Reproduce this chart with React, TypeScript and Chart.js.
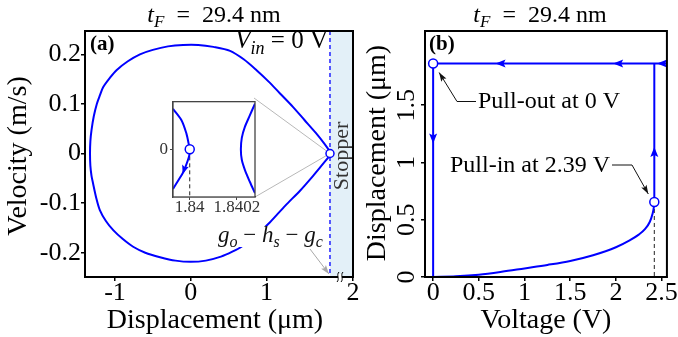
import { useEffect, useRef } from "react";
import { Chart, registerables } from "chart.js";

Chart.register(...registerables);

const FONT = "'Liberation Serif', 'Times New Roman', serif";
const BLUE = "#0000ff";
const BLACK = "#000000";

// ===== Panel (a): phase portrait (displacement µm, velocity m/s) =====
const orbitUpperX = [-1.33, -1.325, -1.31, -1.28, -1.24, -1.2, -1.155, -1.07, -0.98, -0.83, -0.67, -0.5, -0.3, -0.1, 0.1, 0.3, 0.52, 0.7, 0.87, 1.03, 1.18, 1.35, 1.5, 1.65, 1.76, 1.84];
const orbitUpperV = [0, 0.025, 0.047, 0.075, 0.1, 0.117, 0.134, 0.152, 0.168, 0.186, 0.2, 0.209, 0.216, 0.219, 0.219, 0.215, 0.207, 0.19, 0.168, 0.145, 0.121, 0.094, 0.068, 0.042, 0.021, 0.004];
const orbitLowerX = [-1.33, -1.325, -1.31, -1.29, -1.25, -1.2, -1.12, -1.02, -0.9, -0.76, -0.6, -0.405, -0.2, 0, 0.2, 0.4, 0.55, 0.68, 0.87, 1.048, 1.25, 1.444, 1.6, 1.72, 1.84];
const orbitLowerV = [0, -0.025, -0.045, -0.06, -0.088, -0.114, -0.136, -0.155, -0.172, -0.188, -0.2, -0.209, -0.216, -0.2185, -0.216, -0.208, -0.198, -0.187, -0.164, -0.1385, -0.105, -0.075, -0.048, -0.026, -0.004];
const stopperX = 1.84;
const startPointX = [1.84];
const startPointV = [0];
const leftXTickValues = [-1, 0, 1, 2.144];
const leftXTickLabels = ["-1", "0", "1", "2"];
const leftYTickValues = [-0.2, -0.1, 0, 0.1, 0.2];
const leftYTickLabels = ["-0.2", "-0.1", "0", "0.1", "0.2"];
const leftXRange = [-1.396, 2.144];
const leftYRange = [-0.249, 0.247];

// ===== Inset of panel (a) =====
const insetLeftX = [1.839929, 1.839965, 1.839986, 1.839995, 1.84, 1.839997, 1.839977, 1.83997, 1.839929];
const insetLeftV = [0.0085, 0.0061, 0.0033, 0.0013, 0, -0.0015, -0.0043, -0.005, -0.0083];
const insetRightX = [1.840277, 1.840255, 1.840234, 1.840221, 1.840217, 1.840221, 1.840234, 1.840255, 1.840277];
const insetRightV = [0.0096, 0.0071, 0.0047, 0.0024, 0, -0.0022, -0.0043, -0.0068, -0.0092];
const insetArrowFrom = [1.839986, -0.0028];
const insetArrowTo = [1.83997, -0.0052];
const insetXTickValues = [1.84, 1.8402];
const insetXTickLabels = ["1.84", "1.8402"];
const insetYTickValues = [0];
const insetYTickLabels = ["0"];
const insetXRange = [1.839929, 1.840277];
const insetYRange = [-0.01, 0.01];

// ===== Panel (b): displacement vs voltage =====
const upSweepV = [0, 0.25, 0.5, 0.75, 1, 1.25, 1.5, 1.75, 2, 2.15, 2.25, 2.32, 2.37, 2.4, 2.415, 2.42];
const upSweepD = [0, 0.006, 0.02, 0.045, 0.075, 0.105, 0.14, 0.19, 0.26, 0.32, 0.37, 0.42, 0.48, 0.55, 0.61, 0.655];
const pullInV = 2.42;
const pullInD = 0.655;
const pullOutV = 0;
const contactD = 1.864;
const sweepEndV = 2.558;
const loopArrowX = [0.683, 1.97, 2.45, 0, 2.42];
const loopArrowY = [1.864, 1.864, 1.864, 1.165, 1.135];
const loopArrowDir = ["left", "left", "left", "down", "up"];
const rightXTickValues = [0, 0.5, 1, 1.5, 2, 2.5];
const rightXTickLabels = ["0", "0.5", "1", "1.5", "2", "2.5"];
const rightYTickValues = [0, 0.5, 1, 1.5];
const rightYTickLabels = ["0", "0.5", "1", "1.5"];
const rightXRange = [-0.089, 2.558];
const rightYRange = [0, 2.148];

type Seg = { t: string; it?: boolean; sub?: boolean; b?: boolean };

function drawRich(ctx: CanvasRenderingContext2D, segs: Seg[], x: number, y: number, size: number, align: string, color: string) {
  const fontFor = (s: Seg) =>
    `${s.it ? "italic " : ""}${s.b ? "bold " : ""}${s.sub ? Math.round(size * 0.7) : size}px ${FONT}`;
  let w = 0;
  for (const s of segs) {
    ctx.font = fontFor(s);
    w += ctx.measureText(s.t).width;
  }
  let cx = align === "center" ? x - w / 2 : align === "right" ? x - w : x;
  ctx.textAlign = "left";
  ctx.textBaseline = "alphabetic";
  ctx.fillStyle = color;
  for (const s of segs) {
    ctx.font = fontFor(s);
    ctx.fillText(s.t, cx, s.sub ? y + size * 0.22 : y);
    cx += ctx.measureText(s.t).width;
  }
  return w;
}

function arrowHead(ctx: CanvasRenderingContext2D, x: number, y: number, angle: number, len: number, wid: number, color: string) {
  ctx.save();
  ctx.translate(x, y);
  ctx.rotate(angle);
  ctx.beginPath();
  ctx.moveTo(0, 0);
  ctx.lineTo(-len, wid / 2);
  ctx.lineTo(-len * 0.8, 0);
  ctx.lineTo(-len, -wid / 2);
  ctx.closePath();
  ctx.fillStyle = color;
  ctx.fill();
  ctx.restore();
}

function frame(ctx: CanvasRenderingContext2D, a: any, color: string, w: number) {
  ctx.save();
  ctx.strokeStyle = color;
  ctx.lineWidth = w;
  ctx.strokeRect(a.left, a.top, a.right - a.left, a.bottom - a.top);
  ctx.restore();
}

function linAxis(range: number[], values: number[], labels: string[], fontSize: number, fit: (s: any) => void, opts: any = {}) {
  return {
    type: "linear",
    min: range[0],
    max: range[1],
    afterBuildTicks: (s: any) => {
      s.ticks = values.map((v) => ({ value: v }));
    },
    afterFit: fit,
    ticks: {
      autoSkip: false,
      maxRotation: 0,
      minRotation: 0,
      padding: opts.padding ?? 0,
      color: opts.tickColor ?? BLACK,
      display: opts.display ?? true,
      font: { family: FONT, size: fontSize, lineHeight: 0.9 },
      callback: (_v: any, i: number) => labels[i],
    },
    grid: { drawOnChartArea: false, drawTicks: true, tickLength: opts.tickLength ?? 4, color: opts.gridColor ?? BLACK, lineWidth: opts.tickWidth ?? 1.5 },
    border: { display: true, color: opts.gridColor ?? BLACK, width: opts.borderWidth ?? 2 },
  };
}

const pts = (xs: number[], ys: number[]) => xs.map((x, i) => ({ x, y: ys[i] }));

const baseOptions = {
  responsive: false,
  animation: false,
  devicePixelRatio: 1,
  events: [],
  plugins: { legend: { display: false }, tooltip: { enabled: false } },
};

function leftConfig(): any {
  const orbit = [
    ...pts(orbitUpperX, orbitUpperV).reverse(),
    ...pts(orbitLowerX, orbitLowerV).slice(1),
  ];
  const plugin = {
    id: "leftDecor",
    beforeDatasetsDraw(chart: any) {
      const { ctx, chartArea: a, scales } = chart;
      const xs = scales.x.getPixelForValue(stopperX);
      const py = scales.y.getPixelForValue(0);
      ctx.save();
      ctx.fillStyle = "#e3f0f8";
      ctx.fillRect(xs, a.top, a.right - xs, a.bottom - a.top);
      ctx.strokeStyle = "#b8b8b8";
      ctx.lineWidth = 1;
      ctx.beginPath();
      ctx.moveTo(xs, py);
      ctx.lineTo(254, 98);
      ctx.moveTo(xs, py);
      ctx.lineTo(255, 197);
      ctx.stroke();
      ctx.strokeStyle = BLUE;
      ctx.lineWidth = 1.3;
      ctx.setLineDash([4, 3]);
      ctx.beginPath();
      ctx.moveTo(xs, a.top);
      ctx.lineTo(xs, a.bottom);
      ctx.stroke();
      ctx.restore();
    },
    afterDatasetsDraw(chart: any) {
      const { ctx, chartArea: a, scales } = chart;
      const xs = scales.x.getPixelForValue(stopperX);
      ctx.save();
      ctx.fillStyle = "#fff";
      ctx.fillRect(216, 226, 112, 21);
      drawRich(ctx, [
        { t: "g", it: true }, { t: "o", it: true, sub: true }, { t: " − " },
        { t: "h", it: true }, { t: "s", it: true, sub: true }, { t: " − " },
        { t: "g", it: true }, { t: "c", it: true, sub: true },
      ], 218, 242, 23, "left", "#111");
      ctx.strokeStyle = "#a8a8a8";
      ctx.lineWidth = 1;
      ctx.beginPath();
      ctx.moveTo(310, 249);
      ctx.lineTo(xs - 1, a.bottom - 3);
      ctx.stroke();
      arrowHead(ctx, xs - 1, a.bottom - 3, Math.atan2(a.bottom - 3 - 249, xs - 1 - 310), 9, 6, "#a8a8a8");
      ctx.save();
      ctx.translate(348, 156);
      ctx.rotate(-Math.PI / 2);
      ctx.font = `22px ${FONT}`;
      ctx.fillStyle = "#333";
      ctx.textAlign = "center";
      ctx.textBaseline = "alphabetic";
      ctx.fillText("Stopper", 0, 0);
      ctx.restore();
      frame(ctx, a, BLACK, 2);
      const bx = 340, by = a.bottom;
      ctx.fillStyle = "#fff";
      ctx.fillRect(bx - 2, by - 3, 4, 6);
      ctx.strokeStyle = BLACK;
      ctx.lineWidth = 1;
      for (const dx of [-2, 2]) {
        ctx.beginPath();
        ctx.moveTo(bx + dx - 1, by + 5);
        ctx.bezierCurveTo(bx + dx + 2, by + 2, bx + dx - 2, by - 2, bx + dx + 1, by - 5);
        ctx.stroke();
      }
      drawRich(ctx, [{ t: "(a)", b: true }], 90, 50, 21, "left", BLACK);
      drawRich(ctx, [{ t: "V", it: true }, { t: "in", it: true, sub: true }, { t: " = 0 V" }], 328, 48, 25, "right", BLACK);
      drawRich(ctx, [{ t: "t", it: true }, { t: "F", it: true, sub: true }, { t: "  =  29.4 nm" }], 214, 22, 24, "center", BLACK);
      drawRich(ctx, [{ t: "Displacement (μm)" }], 215, 328, 28, "center", BLACK);
      ctx.save();
      ctx.translate(26, 156);
      ctx.rotate(-Math.PI / 2);
      drawRich(ctx, [{ t: "Velocity (m/s)" }], 0, 0, 28, "center", BLACK);
      ctx.restore();
      ctx.restore();
    },
  };
  return {
    type: "scatter",
    data: {
      datasets: [
        { data: pts(startPointX, startPointV), pointRadius: 4, pointBackgroundColor: "#fff", pointBorderColor: BLUE, pointBorderWidth: 1.5, showLine: false },
        { data: orbit, showLine: true, borderColor: BLUE, borderWidth: 2, pointRadius: 0, tension: 0.3, fill: false },
      ],
    },
    options: {
      ...baseOptions,
      layout: { padding: { left: 0, right: 19, top: 31, bottom: 0 } },
      scales: {
        x: linAxis(leftXRange, leftXTickValues, leftXTickLabels, 26, (s: any) => { s.height = 60; }),
        y: linAxis(leftYRange, leftYTickValues, leftYTickLabels, 26, (s: any) => { s.width = 85; }),
      },
    },
    plugins: [plugin],
  };
}

function insetConfig(): any {
  const plugin = {
    id: "insetDecor",
    beforeDatasetsDraw(chart: any) {
      const { ctx, chartArea: a } = chart;
      ctx.save();
      ctx.fillStyle = "#fff";
      ctx.fillRect(a.left, a.top, a.right - a.left, a.bottom - a.top);
      ctx.restore();
    },
    afterDatasetsDraw(chart: any) {
      const { ctx, chartArea: a, scales } = chart;
      const fx = scales.x.getPixelForValue(insetArrowFrom[0]);
      const fy = scales.y.getPixelForValue(insetArrowFrom[1]);
      const tx = scales.x.getPixelForValue(insetArrowTo[0]);
      const ty = scales.y.getPixelForValue(insetArrowTo[1]);
      arrowHead(ctx, tx, ty, Math.atan2(ty - fy, tx - fx), 9, 7, BLUE);
      frame(ctx, a, "#444", 1.3);
    },
  };
  return {
    type: "scatter",
    data: {
      datasets: [
        { data: [{ x: 1.84, y: 0 }], pointRadius: 4.5, pointBackgroundColor: "#fff", pointBorderColor: BLUE, pointBorderWidth: 1.5, showLine: false },
        { data: pts(insetLeftX, insetLeftV), showLine: true, borderColor: BLUE, borderWidth: 2, pointRadius: 0, tension: 0.3 },
        { data: pts(insetRightX, insetRightV), showLine: true, borderColor: BLUE, borderWidth: 2, pointRadius: 0, tension: 0.3 },
        { data: [{ x: 1.84, y: 0 }, { x: 1.84, y: insetYRange[0] }], showLine: true, borderColor: "#222", borderWidth: 1, borderDash: [4, 3], pointRadius: 0 },
      ],
    },
    options: {
      ...baseOptions,
      layout: { padding: { left: 0, right: 10, top: 9, bottom: 0 } },
      scales: {
        x: linAxis(insetXRange, insetXTickValues, insetXTickLabels, 17, (s: any) => { s.height = 25; }, { tickLength: 3, tickColor: "#333", gridColor: "#444", borderWidth: 1.3, tickWidth: 1 }),
        y: linAxis(insetYRange, insetYTickValues, insetYTickLabels, 17, (s: any) => { s.width = 38; }, { tickLength: 3, padding: 2, tickColor: "#333", gridColor: "#444", borderWidth: 1.3, tickWidth: 1 }),
      },
    },
    plugins: [plugin],
  };
}

const OX = 358;

function rightConfig(): any {
  const plugin = {
    id: "rightDecor",
    afterDatasetsDraw(chart: any) {
      const { ctx, chartArea: a, scales } = chart;
      ctx.save();
      loopArrowX.forEach((v, i) => {
        const px = scales.x.getPixelForValue(v);
        const py = scales.y.getPixelForValue(loopArrowY[i]);
        const d = loopArrowDir[i];
        const ang = d === "left" ? Math.PI : d === "down" ? Math.PI / 2 : d === "up" ? -Math.PI / 2 : 0;
        arrowHead(ctx, px, py, ang, 10, 8, BLUE);
      });
      const poX = scales.x.getPixelForValue(pullOutV);
      const poY = scales.y.getPixelForValue(contactD);
      ctx.strokeStyle = "#111";
      ctx.lineWidth = 1;
      ctx.beginPath();
      ctx.moveTo(476 - OX, 101.5);
      ctx.lineTo(457 - OX, 101.5);
      ctx.lineTo(poX + 6, poY + 9);
      ctx.stroke();
      arrowHead(ctx, poX + 6, poY + 9, Math.atan2(poY + 9 - 101.5, poX + 6 - (457 - OX)), 9, 6, "#111");
      drawRich(ctx, [{ t: "Pull-out at 0 V" }], 478 - OX, 108, 24, "left", BLACK);
      const piX = scales.x.getPixelForValue(pullInV);
      const piY = scales.y.getPixelForValue(pullInD);
      ctx.beginPath();
      ctx.moveTo(612 - OX, 165);
      ctx.lineTo(632 - OX, 165);
      ctx.lineTo(piX - 6, piY - 8);
      ctx.stroke();
      arrowHead(ctx, piX - 6, piY - 8, Math.atan2(piY - 8 - 165, piX - 6 - (632 - OX)), 9, 6, "#111");
      drawRich(ctx, [{ t: "Pull-in at 2.39 V" }], 610 - OX, 172, 24, "right", BLACK);
      frame(ctx, a, BLACK, 2);
      scales.y.ticks.forEach((t: any, i: number) => {
        const py = scales.y.getPixelForValue(t.value);
        ctx.save();
        ctx.translate(414 - OX, py);
        ctx.rotate(-Math.PI / 2);
        ctx.font = `26px ${FONT}`;
        ctx.fillStyle = BLACK;
        ctx.textAlign = "center";
        ctx.textBaseline = "alphabetic";
        ctx.fillText(rightYTickLabels[i], 0, 0);
        ctx.restore();
      });
      drawRich(ctx, [{ t: "(b)", b: true }], 429 - OX, 50, 21, "left", BLACK);
      drawRich(ctx, [{ t: "t", it: true }, { t: "F", it: true, sub: true }, { t: "  =  29.4 nm" }], 540 - OX, 22, 24, "center", BLACK);
      drawRich(ctx, [{ t: "Voltage (V)" }], 546 - OX, 328, 28, "center", BLACK);
      ctx.save();
      ctx.translate(385 - OX, 153);
      ctx.rotate(-Math.PI / 2);
      drawRich(ctx, [{ t: "Displacement (μm)" }], 0, 0, 28, "center", BLACK);
      ctx.restore();
      ctx.restore();
    },
  };
  return {
    type: "scatter",
    data: {
      datasets: [
        { data: [{ x: pullOutV, y: contactD }, { x: pullInV, y: pullInD }], pointRadius: 4.5, pointBackgroundColor: "#fff", pointBorderColor: BLUE, pointBorderWidth: 1.5, showLine: false },
        { data: pts(upSweepV, upSweepD), showLine: true, borderColor: BLUE, borderWidth: 2, pointRadius: 0, cubicInterpolationMode: "monotone" },
        { data: [{ x: pullInV, y: pullInD }, { x: pullInV, y: contactD }], showLine: true, borderColor: BLUE, borderWidth: 2, pointRadius: 0 },
        { data: [{ x: sweepEndV, y: contactD }, { x: pullOutV, y: contactD }], showLine: true, borderColor: BLUE, borderWidth: 2, pointRadius: 0 },
        { data: [{ x: pullOutV, y: contactD }, { x: pullOutV, y: 0 }], showLine: true, borderColor: BLUE, borderWidth: 2, pointRadius: 0 },
        { data: [{ x: pullInV, y: pullInD }, { x: pullInV, y: 0 }], showLine: true, borderColor: "#222", borderWidth: 1, borderDash: [4, 3], pointRadius: 0 },
      ],
    },
    options: {
      ...baseOptions,
      layout: { padding: { left: 0, right: 6, top: 31, bottom: 0 } },
      scales: {
        x: linAxis(rightXRange, rightXTickValues, rightXTickLabels, 26, (s: any) => { s.height = 60; }),
        y: linAxis(rightYRange, rightYTickValues, rightYTickLabels, 26, (s: any) => { s.width = 67; }, { display: false }),
      },
    },
    plugins: [plugin],
  };
}

export default function App() {
  const leftRef = useRef<HTMLCanvasElement>(null);
  const insetRef = useRef<HTMLCanvasElement>(null);
  const rightRef = useRef<HTMLCanvasElement>(null);
  useEffect(() => {
    const charts = [
      new Chart(leftRef.current as HTMLCanvasElement, leftConfig()),
      new Chart(rightRef.current as HTMLCanvasElement, rightConfig()),
      new Chart(insetRef.current as HTMLCanvasElement, insetConfig()),
    ];
    return () => charts.forEach((c) => c.destroy());
  }, []);
  return (
    <div style={{ position: "absolute", left: 0, top: 0, width: 678, height: 337, background: "#fff", overflow: "hidden" }}>
      <canvas ref={leftRef} width={372} height={337} style={{ position: "absolute", left: 0, top: 0, width: 372, height: 337 }} />
      <canvas ref={rightRef} width={320} height={337} style={{ position: "absolute", left: OX, top: 0, width: 320, height: 337 }} />
      <canvas ref={insetRef} width={130} height={130} style={{ position: "absolute", left: 135, top: 92, width: 130, height: 130 }} />
    </div>
  );
}
